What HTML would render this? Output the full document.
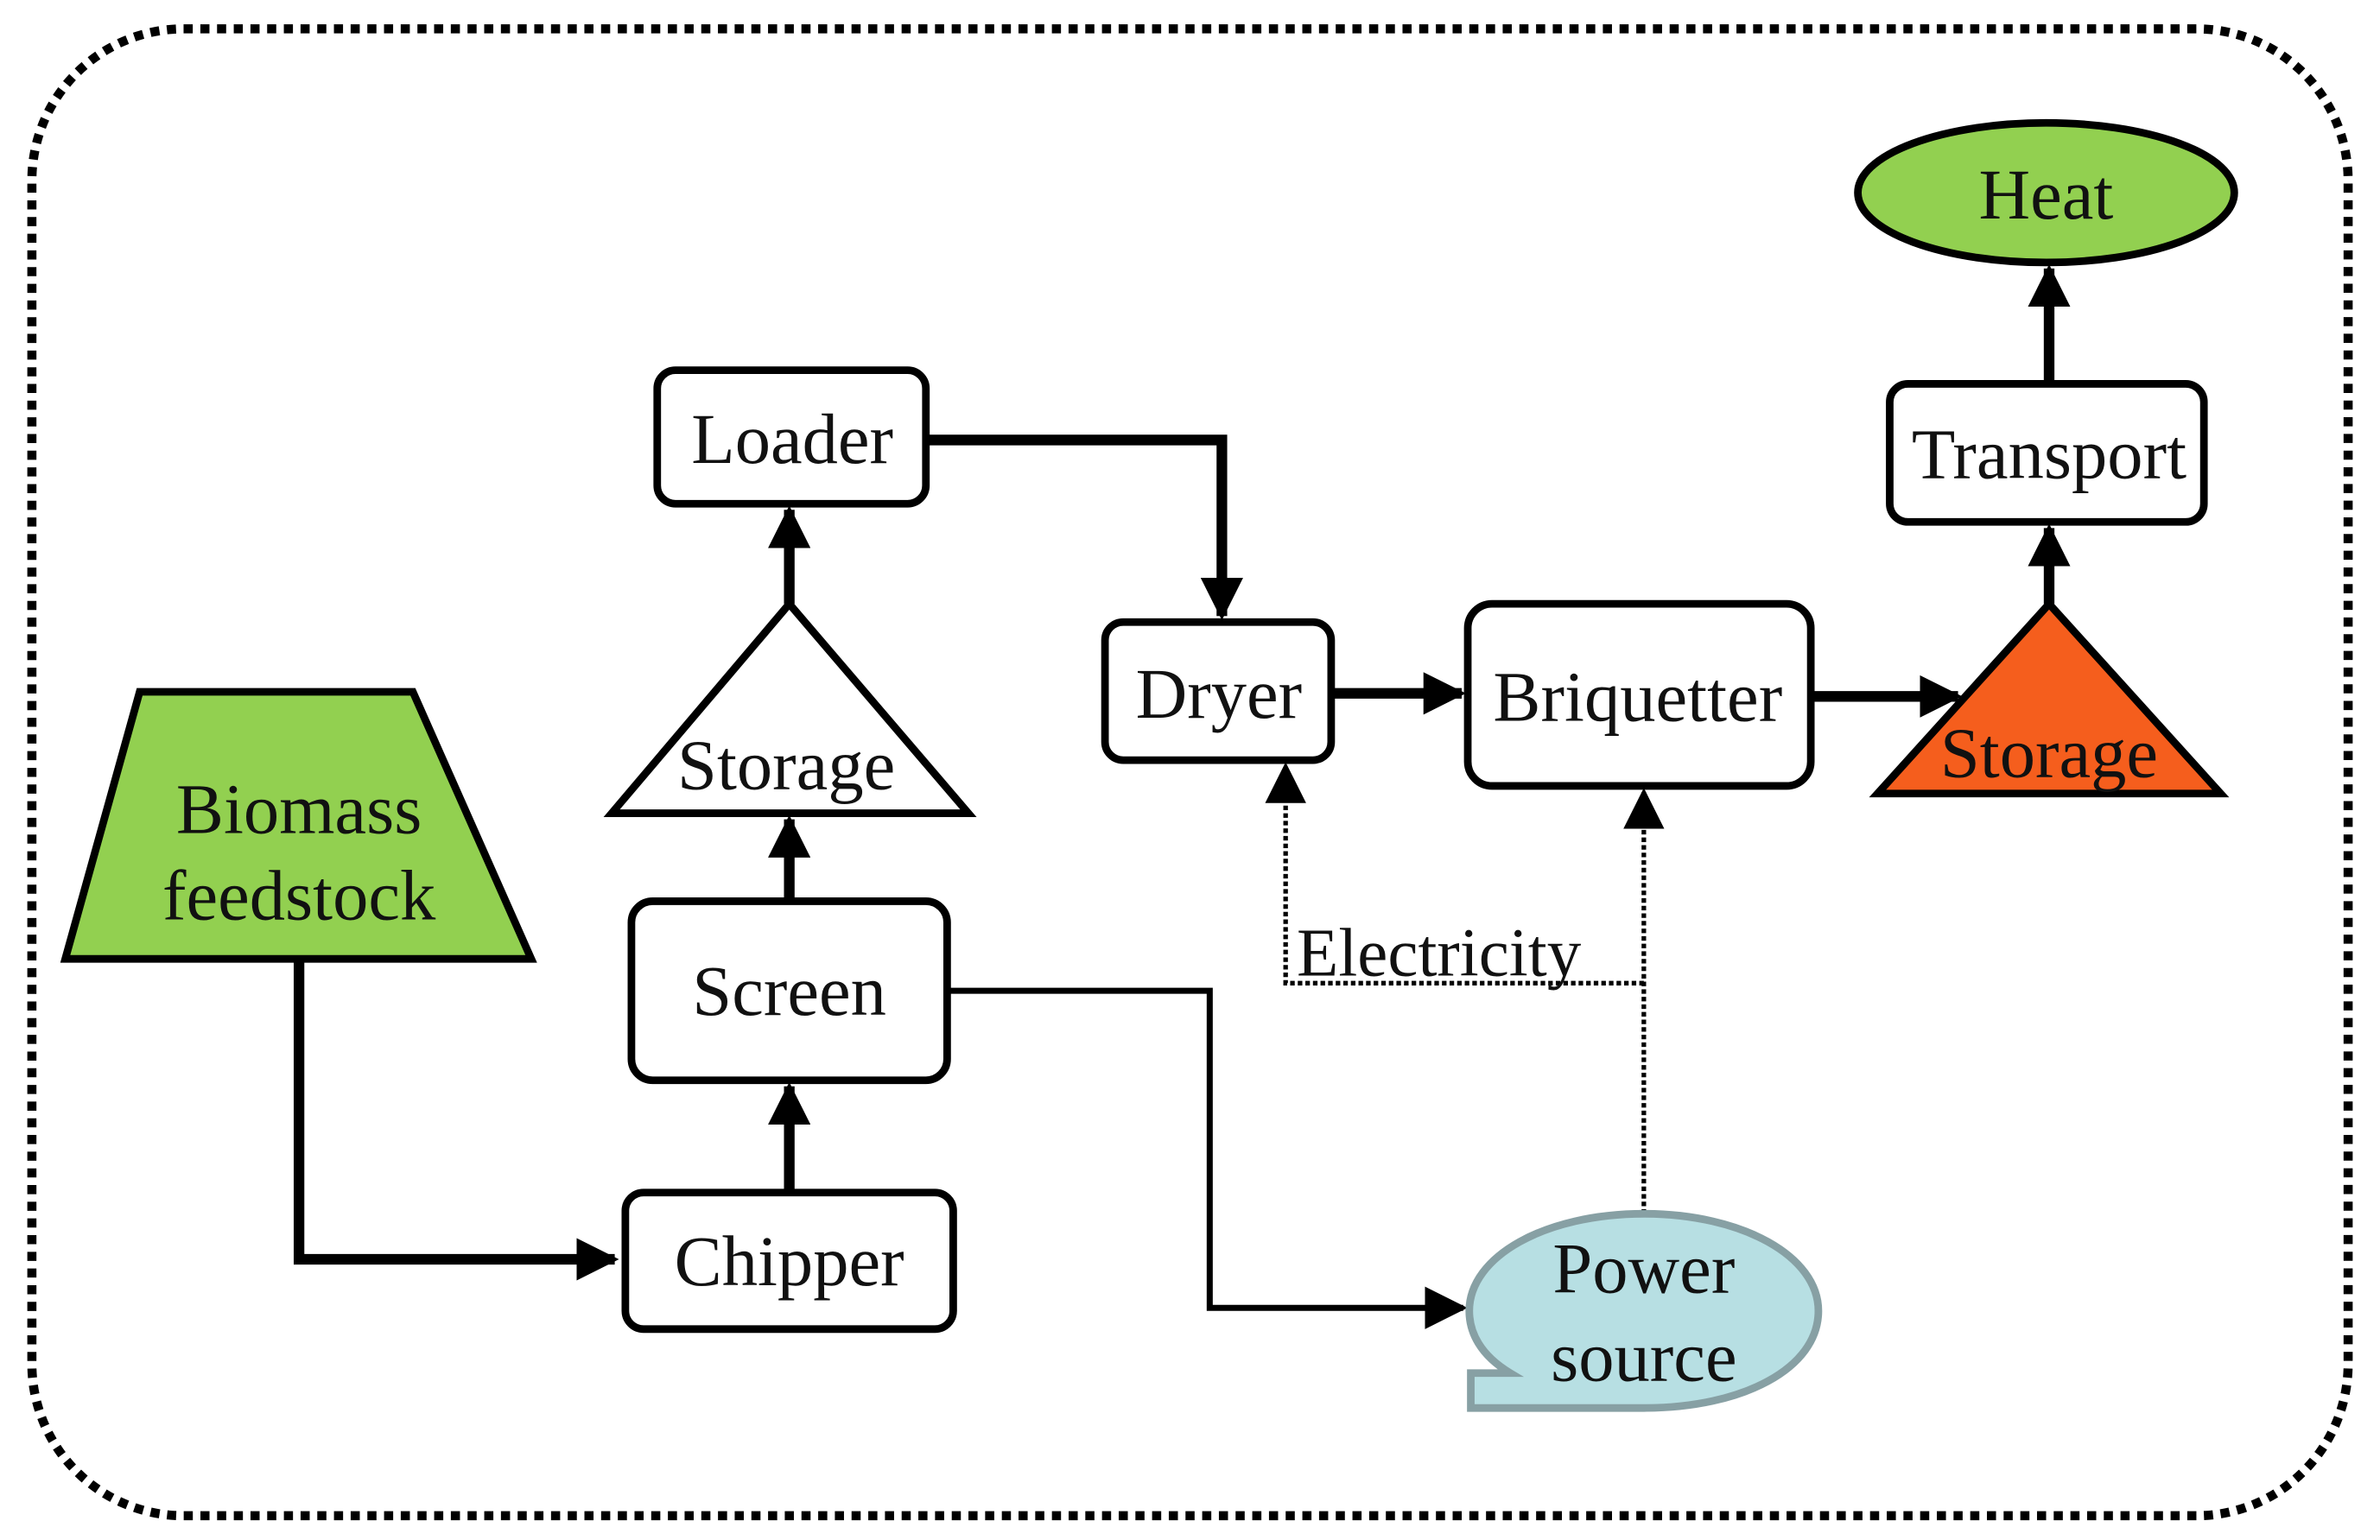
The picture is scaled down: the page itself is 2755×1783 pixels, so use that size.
<!DOCTYPE html>
<html><head><meta charset="utf-8"><style>html,body{margin:0;padding:0;background:#fff}svg{display:block}text{font-family:"Liberation Serif",serif;font-size:47px;fill:#111;text-anchor:middle}</style></head>
<body>
<svg width="2755" height="1783" viewBox="0 0 1568 1015" preserveAspectRatio="none" xmlns="http://www.w3.org/2000/svg">
<defs>
<marker id="a" viewBox="0 0 10 10" refX="9" refY="5" markerWidth="4" markerHeight="4" orient="auto" markerUnits="strokeWidth"><path d="M0,0L10,5L0,10z" fill="#000"/></marker>
<marker id="b" viewBox="0 0 10 10" refX="9" refY="5" markerWidth="7" markerHeight="7" orient="auto" markerUnits="strokeWidth"><path d="M0,0L10,5L0,10z" fill="#000"/></marker>
<marker id="c" viewBox="0 0 10 10" refX="9" refY="5" markerWidth="9" markerHeight="9" orient="auto" markerUnits="strokeWidth"><path d="M0,0L10,5L0,10z" fill="#000"/></marker>
</defs>
<rect x="21" y="19" width="1526" height="980" rx="100" fill="none" stroke="#000" stroke-width="6" stroke-dasharray="6 5"/>
<g fill="none" stroke="#000" stroke-width="7">
<path d="M197,632V830H405" marker-end="url(#a)"/>
<path d="M520,786V716" marker-end="url(#a)"/>
<path d="M520,594V540" marker-end="url(#a)"/>
<path d="M520,398V336" marker-end="url(#a)"/>
<path d="M610,290H805V406" marker-end="url(#a)"/>
<path d="M877,457H963" marker-end="url(#a)"/>
<path d="M1193,459H1290" marker-end="url(#a)"/>
<path d="M1350,398V348" marker-end="url(#a)"/>
<path d="M1350,253V177" marker-end="url(#a)"/>
</g>
<path d="M624,653H797V862H964" fill="none" stroke="#000" stroke-width="4" marker-end="url(#b)"/>
<g fill="none" stroke="#000" stroke-width="3" stroke-dasharray="3 2">
<path d="M1083,800V522" marker-end="url(#c)"/>
<path d="M1083,648H847V505" marker-end="url(#c)"/>
</g>
<polygon points="92,456 272,456 350,632 43,632" fill="#92d050" stroke="#000" stroke-width="5"/>
<text x="197" y="549">Biomass</text><text x="197" y="606">feedstock</text>
<rect x="412" y="786" width="216" height="90" rx="12" fill="#fff" stroke="#000" stroke-width="5"/>
<text x="520" y="847">Chipper</text>
<rect x="416" y="594" width="208" height="118" rx="14" fill="#fff" stroke="#000" stroke-width="5"/>
<text x="520" y="669">Screen</text>
<polygon points="520,398 638,536 403,536" fill="#fff" stroke="#000" stroke-width="5"/>
<text x="518" y="520">Storage</text>
<rect x="433" y="244" width="177" height="88" rx="12" fill="#fff" stroke="#000" stroke-width="5"/>
<text x="522" y="305">Loader</text>
<rect x="728" y="410" width="149" height="91" rx="12" fill="#fff" stroke="#000" stroke-width="5"/>
<text x="803" y="473">Dryer</text>
<rect x="967" y="398" width="226" height="120" rx="16" fill="#fff" stroke="#000" stroke-width="5"/>
<text x="1079" y="475">Briquetter</text>
<polygon points="1350,398 1463,523 1237,523" fill="#f55e1d" stroke="#000" stroke-width="5"/>
<text x="1350" y="512">Storage</text>
<rect x="1245" y="253" width="207" height="91" rx="12" fill="#fff" stroke="#000" stroke-width="5"/>
<text x="1350" y="315">Transport</text>
<ellipse cx="1348" cy="127" rx="124" ry="46" fill="#92d050" stroke="#000" stroke-width="5"/>
<text x="1348" y="144">Heat</text>
<path d="M1083,800 C1148,800 1198,828 1198,864 C1198,902 1148,928 1083,928 L969,928 L969,905 L995,905 C975,893 968,878 968,864 C968,828 1018,800 1083,800 Z" fill="#b7dfe3" stroke="#87a0a4" stroke-width="5"/>
<text x="1083" y="852">Power</text><text x="1083" y="910">source</text>
<text x="948" y="643" style="font-size:45px">Electricity</text>
</svg>
</body></html>
